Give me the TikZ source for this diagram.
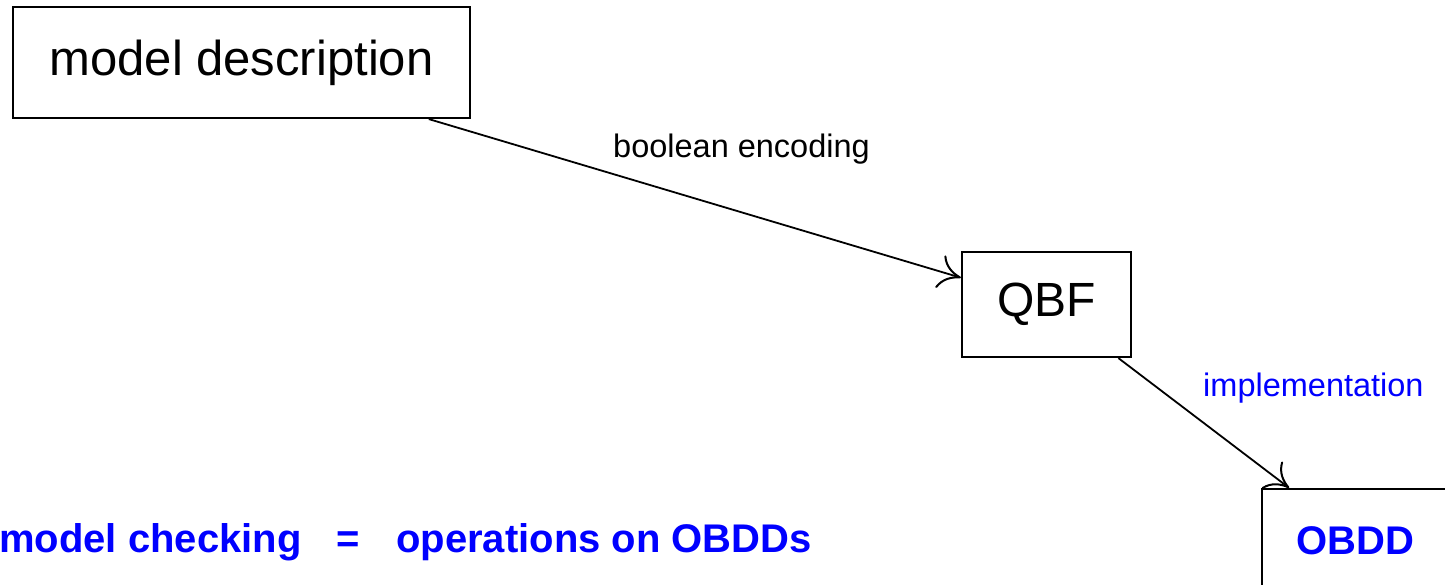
\documentclass[tikz,border=0pt]{standalone}
\usepackage{fontspec}
\setmainfont{Liberation Sans}
\usetikzlibrary{arrows.meta,calc}
\definecolor{pureblue}{RGB}{0,0,255}
\tikzset{
  boxnode/.style={draw=black, line width=2.2pt, inner sep=0pt, align=center},
  conn/.style={line width=1.8pt, -{Computer Modern Rightarrow[length=22pt,width=34pt,line width=2pt]}},
  lbl/.style={inner sep=0pt, anchor=base west, font=\fontsize{32.5}{36}\selectfont}
}
\begin{document}
\begin{tikzpicture}[x=1pt,y=-1pt]
\useasboundingbox (0,0) rectangle (1445,584);
\node[boxnode, minimum width=457pt, minimum height=111pt, font=\fontsize{49}{55}\selectfont] (md) at (241.5,62.5) {model description};
\node[boxnode, minimum width=169pt, minimum height=105pt, font=\fontsize{48}{54}\selectfont] (qbf) at (1046.5,304.5) {QBF};
\node[boxnode, minimum width=186pt, minimum height=104pt, font=\bfseries\fontsize{40}{46}\selectfont, text=pureblue] (obdd) at (1355,541) {OBDD};
\draw[conn] ($(md.south west)!0.908!(md.south east)$) -- ($(qbf.north west)!0.25!(qbf.south west)$);
\draw[conn] ($(qbf.south west)!0.92!(qbf.south east)$) -- ($(obdd.north west)!0.15!(obdd.north east)$);
\node[lbl] (be) at (613,157) {boolean encoding};
\node[lbl, text=pureblue] (impl) at (1203,396) {implementation};
\node[lbl, font=\bfseries\fontsize{40}{46}\selectfont, text=pureblue] (mc) at (-1,552) {model checking};
\node[lbl, font=\bfseries\fontsize{40}{46}\selectfont, text=pureblue] (eq) at (336,552) {=};
\node[lbl, font=\bfseries\fontsize{40}{46}\selectfont, text=pureblue] (ops) at (396,552) {operations on OBDDs};
\end{tikzpicture}
\end{document}
